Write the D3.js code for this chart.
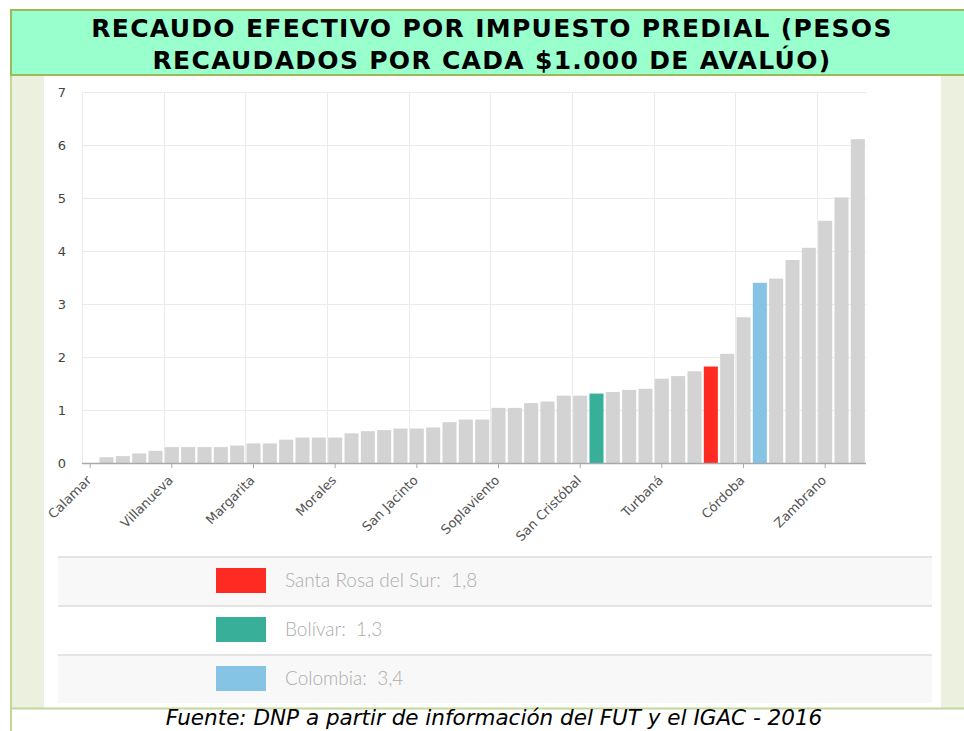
<!DOCTYPE html>
<html>
<head>
<meta charset="utf-8">
<script src="https://cdn.jsdelivr.net/npm/d3@7"></script>
<style>
  body { margin: 0; background: #fff; overflow: hidden; }
</style>
</head>
<body>
<div id="chart"></div>
<script>
// municipios de Bolívar + departamento + país, ordenados por recaudo
const municipios = [
  'Calamar', 'Achí', 'Altos del Rosario', 'Arenal', 'Arroyohondo',
  'Villanueva', 'Barranco de Loba', 'Cantagallo', 'Cicuco', 'Clemencia',
  'Margarita', 'El Guamo', 'El Peñón', 'Hatillo de Loba', 'Montecristo',
  'Morales', 'Norosí', 'Pinillos', 'Regidor', 'Río Viejo',
  'San Jacinto', 'San Fernando', 'San Jacinto del Cauca', 'San Martín de Loba', 'Tiquisio',
  'Soplaviento', 'Santa Catalina', 'Talaigua Nuevo', 'San Estanislao', 'El Carmen de Bolívar',
  'San Cristóbal', 'Bolívar', 'Mahates', 'María La Baja', 'San Juan Nepomuceno',
  'Turbaná', 'Santa Rosa', 'Arjona', 'Santa Rosa del Sur', 'Simití',
  'Córdoba', 'Colombia', 'Mompós', 'San Pablo', 'Magangué',
  'Zambrano', 'Turbaco', 'Cartagena'
];
const recaudo = [
  0.00, 0.11, 0.13, 0.18, 0.23,
  0.30, 0.30, 0.30, 0.30, 0.33,
  0.37, 0.37, 0.44, 0.48, 0.48,
  0.48, 0.56, 0.60, 0.62, 0.65,
  0.65, 0.67, 0.77, 0.82, 0.82,
  1.04, 1.04, 1.13, 1.16, 1.27,
  1.27, 1.31, 1.34, 1.38, 1.40,
  1.59, 1.64, 1.73, 1.82, 2.06,
  2.75, 3.40, 3.48, 3.83, 4.06,
  4.57, 5.01, 6.11
];
const yTicks = [0, 1, 2, 3, 4, 5, 6, 7];
const xTickLabels = ['Calamar', 'Villanueva', 'Margarita', 'Morales', 'San Jacinto',
  'Soplaviento', 'San Cristóbal', 'Turbaná', 'Córdoba', 'Zambrano'];

const legendNames = ['Santa Rosa del Sur', 'Bolívar', 'Colombia'];
const legendValues = ['1,8', '1,3', '3,4'];

const titleLines = ['RECAUDO EFECTIVO POR IMPUESTO PREDIAL (PESOS', 'RECAUDADOS POR CADA $1.000 DE AVALÚO)'];
const fuente = 'Fuente: DNP a partir de información del FUT y el IGAC - 2016';

const data = municipios.map((d, i) => ({name: d, value: recaudo[i]}));

class BarChart {

  constructor(_config, _data) {
    this.config = {
      parentElement: _config.parentElement,
      containerWidth: 964,
      containerHeight: 731,
    }
    this.data = _data;
    this.initVis();
  }

  initVis() {
    let vis = this;

    vis.svg = d3.select(vis.config.parentElement)
      .append('svg')
      .attr('width', vis.config.containerWidth)
      .attr('height', vis.config.containerHeight);

    // body background + panel
    vis.svg.append('rect')
      .attr('x', 12).attr('y', 76).attr('width', 960).attr('height', 632)
      .attr('fill', '#ebf1de');
    vis.svg.append('rect')
      .attr('x', 44).attr('y', 76).attr('width', 897).attr('height', 632)
      .attr('fill', '#ffffff');
    vis.svg.append('line')
      .attr('x1', 11).attr('x2', 11).attr('y1', 76).attr('y2', 731)
      .attr('stroke', '#c4d79b').attr('stroke-width', 2);
    vis.svg.append('line')
      .attr('x1', 11).attr('x2', 964).attr('y1', 708.5).attr('y2', 708.5)
      .attr('stroke', '#c4d79b').attr('stroke-width', 2);

    // header
    vis.svg.append('rect')
      .attr('x', 11).attr('y', 10).attr('width', 970).attr('height', 65)
      .attr('fill', '#99ffcc')
      .attr('stroke', '#9bbb59').attr('stroke-width', 2);
    vis.svg.append('g').selectAll('text').data(titleLines).join('text')
      .attr('x', 492).attr('y', (d, i) => 37 + i * 32)
      .attr('text-anchor', 'middle')
      .attr('font-family', 'DejaVu Sans, Verdana, sans-serif')
      .attr('font-weight', 'bold').attr('font-size', '25px')
      .attr('letter-spacing', '1.3px')
      .attr('fill', '#000')
      .text(d => d);

    // footer
    vis.svg.append('text')
      .attr('x', 494).attr('y', 725)
      .attr('text-anchor', 'middle')
      .attr('font-family', 'DejaVu Sans, Verdana, sans-serif')
      .attr('font-style', 'italic').attr('font-size', '21.5px')
      .attr('fill', '#000')
      .text(fuente);

    // scales
    vis.xScale = d3.scaleBand()
      .domain(vis.data.map(d => d.name))
      .range([82, 866])
      .paddingInner(0.14).paddingOuter(0.07);
    vis.yScale = d3.scaleLinear().domain([0, 7]).range([463, 92]);

    vis.colorScale = d3.scaleOrdinal()
      .domain(legendNames)
      .range(['#ff2a22', '#38af98', '#85c4e5'])
      .unknown('#d3d3d3');

    vis.chart = vis.svg.append('g');
    vis.legend = vis.svg.append('g');
  }

  renderVis() {
    let vis = this;
    const step = vis.xScale.step();
    const half = step * vis.xScale.paddingInner() / 2;
    const tickNames = vis.data.filter((d, i) => i % 5 === 0).map(d => d.name);

    // grid
    vis.chart.append('g').selectAll('line').data(yTicks.slice(1)).join('line')
      .attr('x1', 82).attr('x2', 866)
      .attr('y1', d => vis.yScale(d) + 0.5).attr('y2', d => vis.yScale(d) + 0.5)
      .attr('stroke', '#ebebeb').attr('stroke-width', 1);
    vis.chart.append('g').selectAll('line').data(tickNames).join('line')
      .attr('x1', d => Math.round(vis.xScale(d) - half) + 0.5)
      .attr('x2', d => Math.round(vis.xScale(d) - half) + 0.5)
      .attr('y1', 92).attr('y2', 463)
      .attr('stroke', '#ebebeb').attr('stroke-width', 1);

    // bars
    vis.chart.append('g').selectAll('rect').data(vis.data).join('rect')
      .attr('x', d => vis.xScale(d.name))
      .attr('width', vis.xScale.bandwidth())
      .attr('y', d => vis.yScale(d.value))
      .attr('height', d => vis.yScale(0) - vis.yScale(d.value))
      .attr('fill', d => vis.colorScale(d.name));

    // y axis labels
    vis.chart.append('g').selectAll('text').data(yTicks).join('text')
      .attr('x', 66).attr('y', d => vis.yScale(d) + 4.5)
      .attr('text-anchor', 'end')
      .attr('font-family', 'DejaVu Sans, Verdana, sans-serif')
      .attr('font-size', '13px').attr('fill', '#444')
      .text(d => d);

    // x axis
    vis.chart.append('line')
      .attr('x1', 82).attr('x2', 866).attr('y1', 463.5).attr('y2', 463.5)
      .attr('stroke', '#a3a9ae').attr('stroke-width', 1.5);
    const xg = vis.chart.append('g').selectAll('g').data(xTickLabels).join('g')
      .attr('transform', d => `translate(${vis.xScale(d) + vis.xScale.bandwidth() / 2}, 463)`);
    xg.append('line')
      .attr('y1', 0).attr('y2', 5)
      .attr('stroke', '#a3a9ae').attr('stroke-width', 1);
    xg.append('text')
      .attr('text-anchor', 'end')
      .attr('transform', 'translate(2, 18) rotate(-45)')
      .attr('font-family', 'DejaVu Sans, Verdana, sans-serif')
      .attr('font-size', '13px').attr('fill', '#555')
      .text(d => d);

    // legend rows
    const rows = vis.legend.selectAll('g').data(legendNames).join('g')
      .attr('transform', (d, i) => `translate(0, ${557 + i * 49})`);
    rows.append('rect')
      .attr('x', 58).attr('y', 0).attr('width', 874).attr('height', 48)
      .attr('fill', (d, i) => i % 2 === 0 ? '#f8f8f8' : '#ffffff');
    rows.append('line')
      .attr('x1', 58).attr('x2', 932).attr('y1', 0).attr('y2', 0)
      .attr('stroke', '#e4e4e4').attr('stroke-width', 2);
    rows.append('rect')
      .attr('x', 216).attr('y', 11).attr('width', 50).attr('height', 25)
      .attr('fill', d => vis.colorScale(d));
    rows.append('text')
      .attr('x', 285).attr('y', 30)
      .attr('font-family', 'Lato, Open Sans, sans-serif')
      .attr('font-weight', 300).attr('font-size', '19px')
      .attr('fill', '#acacac')
      .text((d, i) => `${d}:  ${legendValues[i]}`)
      .attr('xml:space', 'preserve');
  }
}

const chart = new BarChart({parentElement: '#chart'}, data);
chart.renderVis();
</script>
</body>
</html>
